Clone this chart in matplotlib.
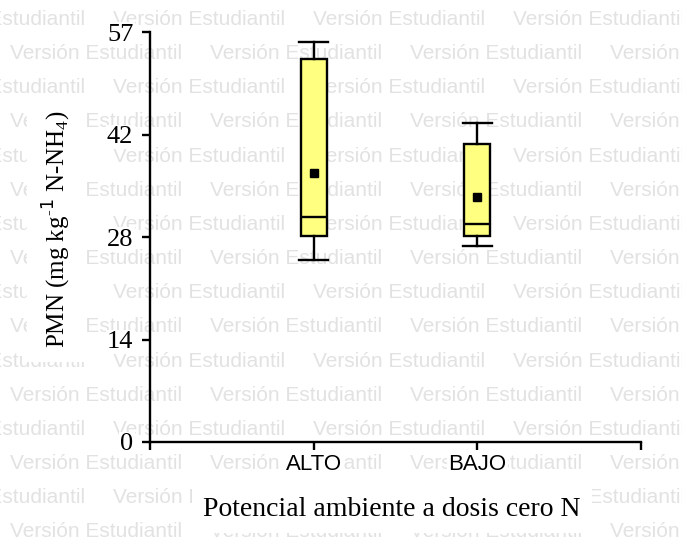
"""Box plot of PMN by environmental potential (InfoStat student-version style)."""

import matplotlib
matplotlib.use("Agg")
import matplotlib.pyplot as plt
import numpy as np

W, H = 682, 538

categories = ["ALTO", "BAJO"]
whis_hi = [55.65, 44.4]
q3 = [53.3, 41.4]
means = [37.4, 34.1]
medians = [31.3, 30.3]
q1 = [28.6, 28.6]
whis_lo = [25.3, 27.2]

ytick_labels = ["0", "14", "28", "42", "57"]
y_max = 57

SERIF = "Liberation Serif"
SANS = "Liberation Sans"
WATERMARK = "Versión Estudiantil"


def px(x, y):
    return x / W, 1 - y / H


fig = plt.figure(figsize=(W / 100, H / 100), dpi=100)
fig.patch.set_facecolor("white")

# tiled watermark behind everything
for k in range(-1, 15):
    y_base = 52 + 34.17 * k + 7
    x0 = 10 if k % 2 == 0 else 113
    for j in range(-1, 4):
        fx, fy = px(x0 + 200 * j, y_base)
        fig.text(fx, fy, WATERMARK, family=SANS, fontsize=15, color="#e2e2e2",
                 ha="left", va="baseline", zorder=-5)

left, right, top, bottom = 150, 641, 32, 442
ax = fig.add_axes([left / W, 1 - bottom / H, (right - left) / W, (bottom - top) / H])
ax.set_facecolor("none")

stats = []
for i, name in enumerate(categories):
    stats.append(dict(label=name, med=medians[i], q1=q1[i], q3=q3[i],
                      whislo=whis_lo[i], whishi=whis_hi[i], mean=means[i], fliers=[]))

ax.bxp(stats, positions=[1, 2], widths=0.16, patch_artist=True, showmeans=True,
       showfliers=False, manage_ticks=False,
       boxprops=dict(facecolor="#ffff80", edgecolor="black", linewidth=1.7),
       medianprops=dict(color="black", linewidth=1.7),
       whiskerprops=dict(color="black", linewidth=1.7),
       capprops=dict(color="black", linewidth=1.7),
       capwidths=0.18,
       meanprops=dict(marker="s", markerfacecolor="black", markeredgecolor="black",
                      markersize=5.5))

ax.set_xlim(0, 3)
ax.set_ylim(0, y_max)
ax.set_xticks([0, 1, 2, 3])
ax.set_xticklabels([""] + categories + [""], family=SANS, fontsize=16)
ax.set_yticks(np.linspace(0, y_max, len(ytick_labels)))
ax.set_yticklabels(ytick_labels, family=SERIF, fontsize=19)

for side in ["top", "right"]:
    ax.spines[side].set_visible(False)
for side in ["left", "bottom"]:
    ax.spines[side].set_linewidth(1.7)
ax.tick_params(axis="both", direction="out", length=6, width=1.7)
ax.tick_params(axis="x", pad=3)
ax.tick_params(axis="y", pad=6)

for lab in ax.get_yticklabels() + ax.get_xticklabels():
    lab.set_bbox(dict(facecolor="white", edgecolor="none", pad=1))

fx, fy = px(57, 229)
fig.text(fx, fy, "PMN (mg kg$^{\\mathregular{\u2010}1}$ N-NH$_{\\mathregular{4}}$)",
         family=SERIF, fontsize=18, rotation=90, ha="center", va="center",
         bbox=dict(facecolor="white", edgecolor="none", pad=10))

fx, fy = px(392, 516)
fig.text(fx, fy, "Potencial ambiente a dosis cero N", family=SERIF, fontsize=20,
         ha="center", va="baseline",
         bbox=dict(facecolor="white", edgecolor="none", pad=8))

fig.savefig("out.png", dpi=100, facecolor="white")
